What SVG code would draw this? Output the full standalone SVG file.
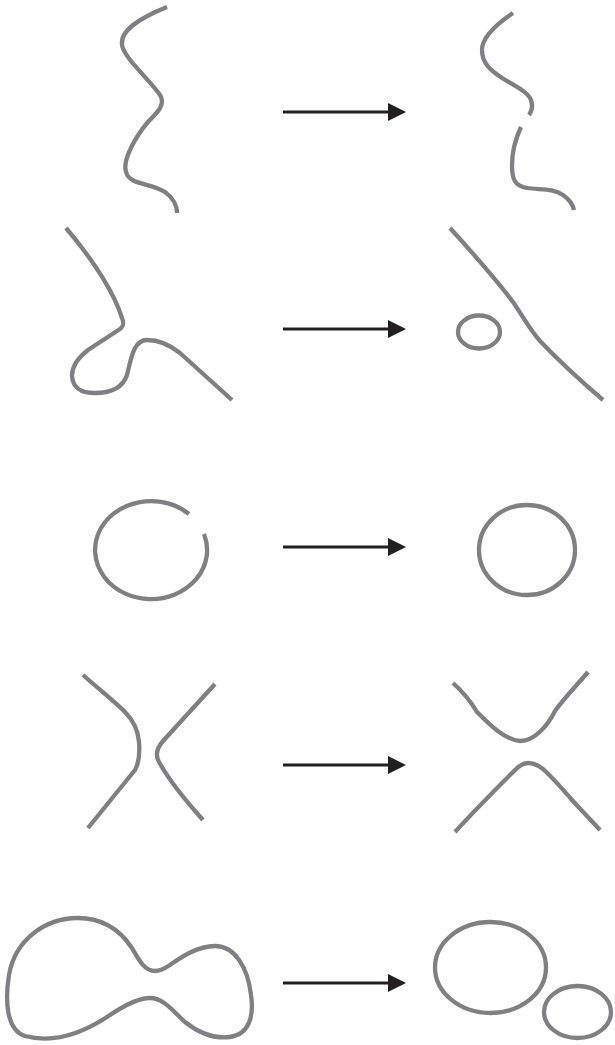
<svg xmlns="http://www.w3.org/2000/svg" width="615" height="1045" viewBox="0 0 615 1045">
<style>
.c{fill:none;stroke:#808084;stroke-width:4.3;stroke-linecap:butt;stroke-linejoin:round}
.a{stroke:#231f20;stroke-width:3}
.h{fill:#231f20}
</style>
<defs>
<g id="arrow"><line class="a" x1="283" y1="0" x2="392" y2="0"/><polygon class="h" points="406,0 388,-9 388,9"/></g>
</defs>
<rect width="615" height="1045" fill="#fff"/>
<g id="row1-before"><path class="c" d="M167,7 C140,18 120,30 122,45 C124,58 150,80 160,95 C166,104 158,112 148,122 C136,136 122,160 126,172 C130,186 150,182 165,192 C172,197 177,205 177,213"/></g>
<g id="row1-after"><path class="c" d="M513,13 C495,25 482,38 482,50 C482,63 490,70 502,78 C515,86 528,92 531,100 C533,106 532,111 529,115"/><path class="c" d="M521,127 C515,140 512,152 512,165 C512,180 515,186 527,188 C540,190 553,188 563,195 C570,200 573,205 574,210"/></g>
<g id="row2-before"><path class="c" d="M66,228 C95,262 115,295 122,318 C124,323 124,326 120,329 L88,350 C75,360 72,368 72,376 C73,388 80,393 95,393 C112,393 123,387 127,375 C131,360 133,340 147,340 C160,340 170,345 180,353 L232,400"/></g>
<g id="row2-after"><path class="c" d="M450,228 C470,250 495,278 513,302 C522,315 530,330 540,341 C560,362 582,382 603,400"/><ellipse class="c" cx="479" cy="332" rx="21" ry="16.5"/></g>
<g id="row3-before"><path class="c" d="M204,534 A56,49 0 1 1 189,514"/></g>
<g id="row3-after"><ellipse class="c" cx="527" cy="550" rx="48" ry="45"/></g>
<g id="row4-before"><path class="c" d="M83,675 C100,690 115,702 125,712 C133,720 138,730 139,742 C140,755 139,763 135,770 L88,828"/><path class="c" d="M215,684 L163,741 C157,748 155,755 159,762 C170,782 185,800 203,820"/></g>
<g id="row4-after"><path class="c" d="M453,683 C463,692 470,700 477,712 C490,725 505,740 520,741 C535,741 548,725 555,711 C565,697 578,684 588,672"/><path class="c" d="M455,832 C475,810 495,790 515,770 C520,765 524,763 528,763 C534,763 538,765 543,769 C555,780 565,792 572,800 L600,830"/></g>
<g id="row5-before"><path class="c" d="M155,971 C145,971 140,962 132,948 C120,930 102,918 78,918 C45,918 15,940 9,975 C5,1000 6,1030 25,1036 C55,1044 85,1032 110,1015 C125,1005 138,998 150,998 C163,998 172,1010 185,1022 C200,1034 215,1039 230,1037 C250,1034 254,1015 251,995 C248,968 235,946 215,946 C197,946 180,958 170,965 C164,969 160,971 155,971 Z"/></g>
<g id="row5-after"><ellipse class="c" cx="490.5" cy="967.5" rx="55.5" ry="45.5"/><ellipse class="c" cx="577.5" cy="1012" rx="33.5" ry="26"/></g>
<g id="connectors">
<use href="#arrow" y="112"/>
<use href="#arrow" y="329"/>
<use href="#arrow" y="547"/>
<use href="#arrow" y="765"/>
<use href="#arrow" y="983"/>
</g>
</svg>
